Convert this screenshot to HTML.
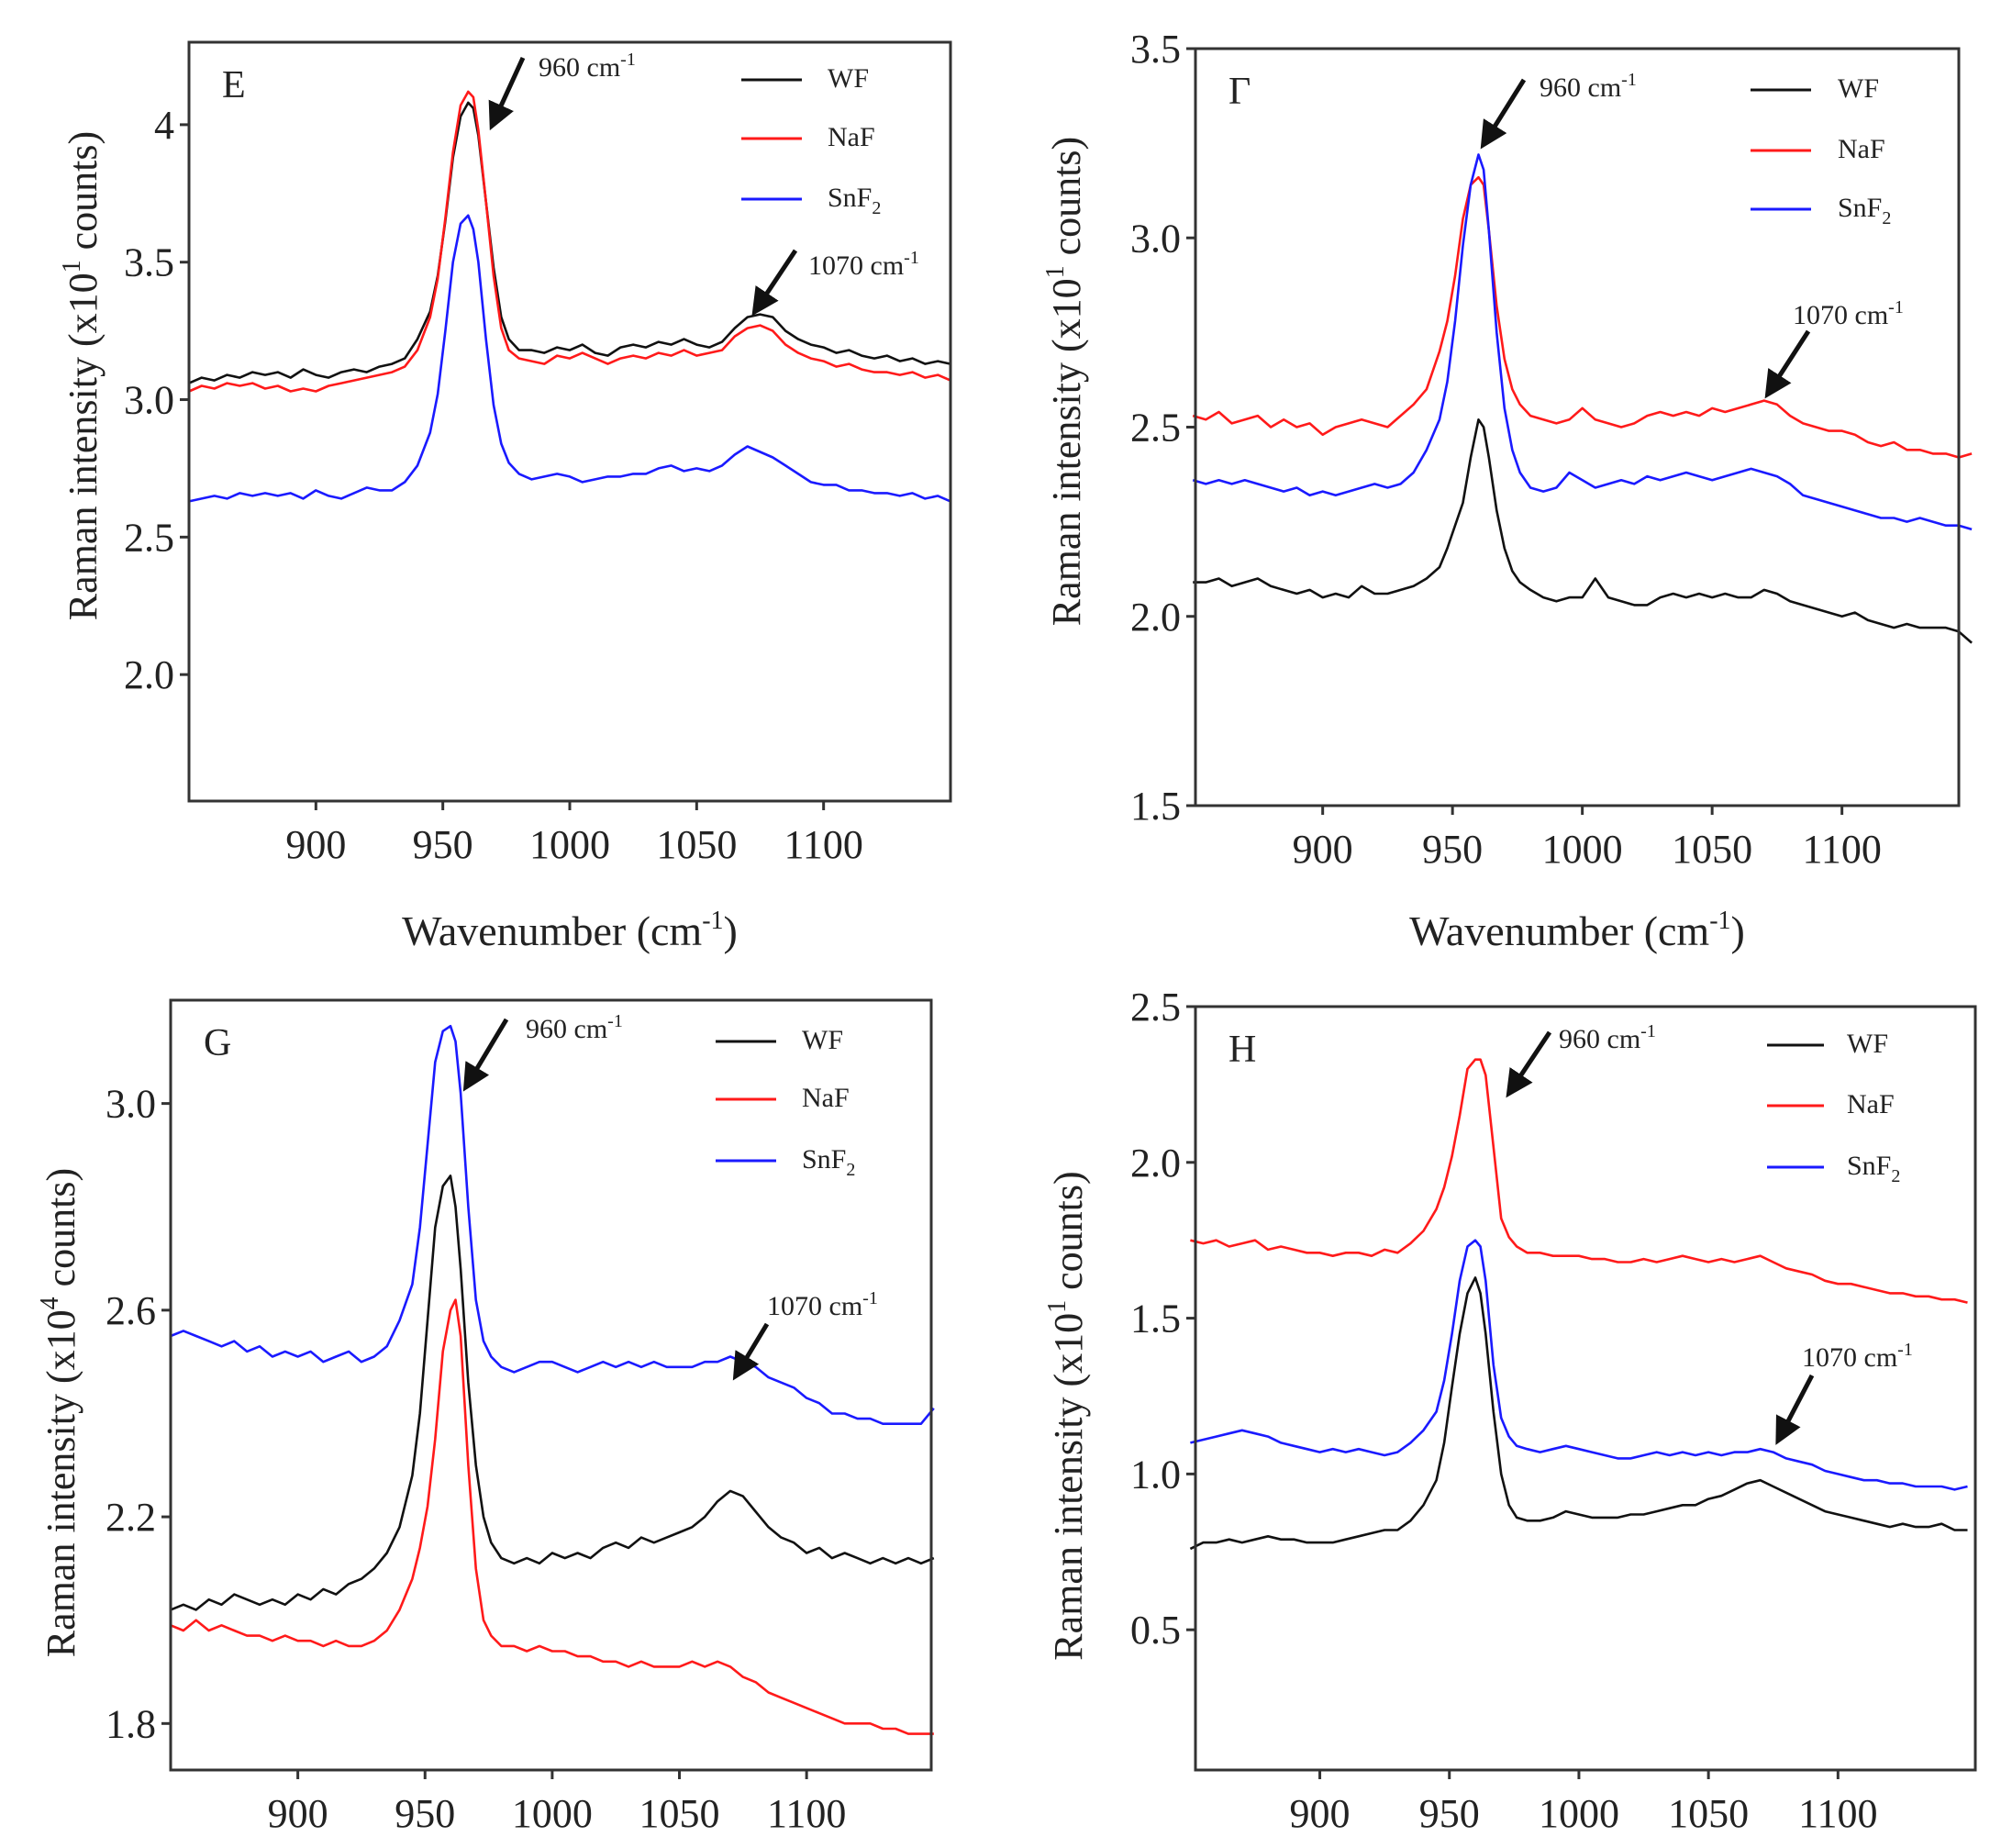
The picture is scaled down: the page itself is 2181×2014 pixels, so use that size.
<!DOCTYPE html>
<html><head><meta charset="utf-8">
<style>
html,body{margin:0;padding:0;background:#fff;}
svg{display:block;}
text{font-family:"Liberation Serif",serif;fill:#222;}
</style></head>
<body>
<svg id="fig" width="2181" height="2014" viewBox="0 0 2181 2014" xmlns="http://www.w3.org/2000/svg">
<defs><marker id="ah" markerWidth="6" markerHeight="6" refX="4" refY="3" orient="auto" markerUnits="strokeWidth"><path d="M0,0 L6,3 L0,6 z" fill="#111"/></marker></defs>
</svg>
<script>
const wavenumbers=[850,855,860,865,870,875,880,885,890,895,900,905,910,915,920,925,930,935,940,945,948,951,954,957,960,962,964,967,970,973,976,980,985,990,995,1000,1005,1010,1015,1020,1025,1030,1035,1040,1045,1050,1055,1060,1065,1070,1075,1080,1085,1090,1095,1100,1105,1110,1115,1120,1125,1130,1135,1140,1145,1150];
const seriesNames=["WF","NaF","SnF2"];
const xTicks=[900,950,1000,1050,1100];

const E_WF=[3.06,3.08,3.07,3.09,3.08,3.10,3.09,3.10,3.08,3.11,3.09,3.08,3.10,3.11,3.10,3.12,3.13,3.15,3.22,3.32,3.45,3.65,3.88,4.03,4.08,4.06,3.96,3.72,3.48,3.30,3.22,3.18,3.18,3.17,3.19,3.18,3.20,3.17,3.16,3.19,3.20,3.19,3.21,3.20,3.22,3.20,3.19,3.21,3.26,3.30,3.31,3.30,3.25,3.22,3.20,3.19,3.17,3.18,3.16,3.15,3.16,3.14,3.15,3.13,3.14,3.13];
const E_NaF=[3.03,3.05,3.04,3.06,3.05,3.06,3.04,3.05,3.03,3.04,3.03,3.05,3.06,3.07,3.08,3.09,3.10,3.12,3.18,3.30,3.44,3.66,3.90,4.07,4.12,4.10,3.98,3.72,3.45,3.26,3.18,3.15,3.14,3.13,3.16,3.15,3.17,3.15,3.13,3.15,3.16,3.15,3.17,3.16,3.18,3.16,3.17,3.18,3.23,3.26,3.27,3.25,3.20,3.17,3.15,3.14,3.12,3.13,3.11,3.10,3.10,3.09,3.10,3.08,3.09,3.07];
const E_SnF2=[2.63,2.64,2.65,2.64,2.66,2.65,2.66,2.65,2.66,2.64,2.67,2.65,2.64,2.66,2.68,2.67,2.67,2.70,2.76,2.88,3.02,3.25,3.50,3.64,3.67,3.62,3.50,3.22,2.98,2.84,2.77,2.73,2.71,2.72,2.73,2.72,2.70,2.71,2.72,2.72,2.73,2.73,2.75,2.76,2.74,2.75,2.74,2.76,2.80,2.83,2.81,2.79,2.76,2.73,2.70,2.69,2.69,2.67,2.67,2.66,2.66,2.65,2.66,2.64,2.65,2.63];

const F_WF=[2.09,2.09,2.10,2.08,2.09,2.10,2.08,2.07,2.06,2.07,2.05,2.06,2.05,2.08,2.06,2.06,2.07,2.08,2.10,2.13,2.18,2.24,2.30,2.42,2.52,2.50,2.42,2.28,2.18,2.12,2.09,2.07,2.05,2.04,2.05,2.05,2.10,2.05,2.04,2.03,2.03,2.05,2.06,2.05,2.06,2.05,2.06,2.05,2.05,2.07,2.06,2.04,2.03,2.02,2.01,2.00,2.01,1.99,1.98,1.97,1.98,1.97,1.97,1.97,1.96,1.93];
const F_NaF=[2.53,2.52,2.54,2.51,2.52,2.53,2.50,2.52,2.50,2.51,2.48,2.50,2.51,2.52,2.51,2.50,2.53,2.56,2.60,2.70,2.78,2.90,3.05,3.14,3.16,3.14,3.02,2.82,2.68,2.60,2.56,2.53,2.52,2.51,2.52,2.55,2.52,2.51,2.50,2.51,2.53,2.54,2.53,2.54,2.53,2.55,2.54,2.55,2.56,2.57,2.56,2.53,2.51,2.50,2.49,2.49,2.48,2.46,2.45,2.46,2.44,2.44,2.43,2.43,2.42,2.43];
const F_SnF2=[2.36,2.35,2.36,2.35,2.36,2.35,2.34,2.33,2.34,2.32,2.33,2.32,2.33,2.34,2.35,2.34,2.35,2.38,2.44,2.52,2.62,2.78,2.98,3.14,3.22,3.18,3.02,2.75,2.55,2.44,2.38,2.34,2.33,2.34,2.38,2.36,2.34,2.35,2.36,2.35,2.37,2.36,2.37,2.38,2.37,2.36,2.37,2.38,2.39,2.38,2.37,2.35,2.32,2.31,2.30,2.29,2.28,2.27,2.26,2.26,2.25,2.26,2.25,2.24,2.24,2.23];

const G_WF=[2.02,2.03,2.02,2.04,2.03,2.05,2.04,2.03,2.04,2.03,2.05,2.04,2.06,2.05,2.07,2.08,2.10,2.13,2.18,2.28,2.40,2.58,2.76,2.84,2.86,2.80,2.68,2.46,2.30,2.20,2.15,2.12,2.11,2.12,2.11,2.13,2.12,2.13,2.12,2.14,2.15,2.14,2.16,2.15,2.16,2.17,2.18,2.20,2.23,2.25,2.24,2.21,2.18,2.16,2.15,2.13,2.14,2.12,2.13,2.12,2.11,2.12,2.11,2.12,2.11,2.12];
const G_NaF=[1.99,1.98,2.00,1.98,1.99,1.98,1.97,1.97,1.96,1.97,1.96,1.96,1.95,1.96,1.95,1.95,1.96,1.98,2.02,2.08,2.14,2.22,2.35,2.52,2.60,2.62,2.55,2.30,2.10,2.00,1.97,1.95,1.95,1.94,1.95,1.94,1.94,1.93,1.93,1.92,1.92,1.91,1.92,1.91,1.91,1.91,1.92,1.91,1.92,1.91,1.89,1.88,1.86,1.85,1.84,1.83,1.82,1.81,1.80,1.80,1.80,1.79,1.79,1.78,1.78,1.78];
const G_SnF2=[2.55,2.56,2.55,2.54,2.53,2.54,2.52,2.53,2.51,2.52,2.51,2.52,2.50,2.51,2.52,2.50,2.51,2.53,2.58,2.65,2.76,2.92,3.08,3.14,3.15,3.12,3.02,2.80,2.62,2.54,2.51,2.49,2.48,2.49,2.50,2.50,2.49,2.48,2.49,2.50,2.49,2.50,2.49,2.50,2.49,2.49,2.49,2.50,2.50,2.51,2.50,2.49,2.47,2.46,2.45,2.43,2.42,2.40,2.40,2.39,2.39,2.38,2.38,2.38,2.38,2.41];

const H_WF=[0.76,0.78,0.78,0.79,0.78,0.79,0.80,0.79,0.79,0.78,0.78,0.78,0.79,0.80,0.81,0.82,0.82,0.85,0.90,0.98,1.10,1.28,1.45,1.58,1.63,1.58,1.45,1.20,1.00,0.90,0.86,0.85,0.85,0.86,0.88,0.87,0.86,0.86,0.86,0.87,0.87,0.88,0.89,0.90,0.90,0.92,0.93,0.95,0.97,0.98,0.96,0.94,0.92,0.90,0.88,0.87,0.86,0.85,0.84,0.83,0.84,0.83,0.83,0.84,0.82,0.82];
const H_NaF=[1.75,1.74,1.75,1.73,1.74,1.75,1.72,1.73,1.72,1.71,1.71,1.70,1.71,1.71,1.70,1.72,1.71,1.74,1.78,1.85,1.92,2.02,2.15,2.30,2.33,2.33,2.28,2.05,1.82,1.76,1.73,1.71,1.71,1.70,1.70,1.70,1.69,1.69,1.68,1.68,1.69,1.68,1.69,1.70,1.69,1.68,1.69,1.68,1.69,1.70,1.68,1.66,1.65,1.64,1.62,1.61,1.61,1.60,1.59,1.58,1.58,1.57,1.57,1.56,1.56,1.55];
const H_SnF2=[1.10,1.11,1.12,1.13,1.14,1.13,1.12,1.10,1.09,1.08,1.07,1.08,1.07,1.08,1.07,1.06,1.07,1.10,1.14,1.20,1.30,1.45,1.62,1.73,1.75,1.73,1.62,1.35,1.18,1.12,1.09,1.08,1.07,1.08,1.09,1.08,1.07,1.06,1.05,1.05,1.06,1.07,1.06,1.07,1.06,1.07,1.06,1.07,1.07,1.08,1.07,1.05,1.04,1.03,1.01,1.00,0.99,0.98,0.98,0.97,0.97,0.96,0.96,0.96,0.95,0.96];

const E_yTicks=["2.0","2.5","3.0","3.5","4"];
const F_yTicks=["1.5","2.0","2.5","3.0","3.5"];
const G_yTicks=["1.8","2.2","2.6","3.0"];
const H_yTicks=["0.5","1.0","1.5","2.0","2.5"];

const NS="http://www.w3.org/2000/svg";
const svg=document.getElementById('fig');
const colors=["#111111","#ff1a1a","#1a1aff"];
function mk(tag,attrs,parent){const e=document.createElementNS(NS,tag);for(const k in attrs)e.setAttribute(k,attrs[k]);(parent||svg).appendChild(e);return e;}

const panels=[
 {id:"e",letter:"E",box:[206,46,1036,873],xr:[850,1150],yr:[1.54,4.30],yt:E_yTicks,data:[E_WF,E_NaF,E_SnF2],ylab:"1",ylx:91,xtitle:true,
  leg:[808,874,[87,151,217],902],a1:[587,73,570,63,538,133],a2:[881,289,867,273,825,336]},
 {id:"f",letter:"Γ",box:[1303,53,2135,878],xr:[851,1145],yr:[1.5,3.5],yt:F_yTicks,data:[F_WF,F_NaF,F_SnF2],ylab:"1",ylx:1163,xtitle:true,
  leg:[1908,1974,[98,164,228],2003],a1:[1678,95,1661,87,1619,154],a2:[1954,343,1971,361,1929,426]},
 {id:"g",letter:"G",box:[186,1090,1015,1929],xr:[850,1149],yr:[1.71,3.2],yt:G_yTicks,data:[G_WF,G_NaF,G_SnF2],ylab:"4",ylx:67,xtitle:false,
  leg:[780,846,[1135,1198,1265],874],a1:[573,1121,552,1111,510,1181],a2:[836,1423,836,1443,804,1496]},
 {id:"h",letter:"H",box:[1303,1097,2153,1929],xr:[852,1153],yr:[0.05,2.5],yt:H_yTicks,data:[H_WF,H_NaF,H_SnF2],ylab:"1",ylx:1165,xtitle:false,
  leg:[1926,1988,[1139,1205,1272],2013],a1:[1699,1132,1689,1125,1647,1188],a2:[1964,1479,1975,1499,1940,1566]}
];

panels.forEach(p=>{
  const [L,T,R,B]=p.box;
  const g=mk('g',{});
  
  
  const xs=v=>L+(v-p.xr[0])/(p.xr[1]-p.xr[0])*(R-L);
  const ys=v=>B-(v-p.yr[0])/(p.yr[1]-p.yr[0])*(B-T);
  // series
  p.data.forEach((arr,si)=>{
    const d=arr.map((v,i)=>(i?'L':'M')+xs(wavenumbers[i]).toFixed(1)+','+ys(v).toFixed(1)).join(' ');
    const path=mk('path',{d:d,fill:'none',stroke:colors[si],'stroke-width':2.6,'stroke-linejoin':'round'},g);
    
    
  });
  // box
  const box=mk('rect',{x:L,y:T,width:R-L,height:B-T,fill:'none',stroke:'#333','stroke-width':3},g);
  
  
  // x ticks
  xTicks.forEach(t=>{
    const x=xs(t);
    mk('line',{x1:x,y1:B,x2:x,y2:B+10,stroke:'#333','stroke-width':3},g);
    const tx=mk('text',{x:x,y:B+62,'font-size':44,'text-anchor':'middle'},g);
    tx.textContent=t;
    
    
  });
  // y ticks
  p.yt.forEach(t=>{
    const y=ys(parseFloat(t));
    mk('line',{x1:L-10,y1:y,x2:L,y2:y,stroke:'#333','stroke-width':3},g);
    const ty=mk('text',{x:L-16,y:y+15,'font-size':44,'text-anchor':'end'},g);
    ty.textContent=t;
    
    
  });
  // y title
  const cy=(T+B)/2-(p.id==='e'||p.id==='f'?50:0)+(p.id==='g'||p.id==='h'?30:0);
  const yt=mk('text',{x:p.ylx,y:cy,'font-size':44,'text-anchor':'middle',transform:`rotate(-90 ${p.ylx} ${cy})`,dy:14},g);
  yt.innerHTML='Raman intensity (x10<tspan dy="-18" font-size="28">'+p.ylab+'</tspan><tspan dy="18"> counts)</tspan>';
  
  
  if(p.xtitle){
    const xt=mk('text',{x:(L+R)/2,y:1030,'font-size':46,'text-anchor':'middle'},g);
    xt.innerHTML='Wavenumber (cm<tspan dy="-18" font-size="28">-1</tspan><tspan dy="18">)</tspan>';
    
    
  }
  // letter
  const lt=mk('text',{x:L+36,y:T+60,'font-size':42},g);
  lt.textContent=p.letter;
  
  
  // legend
  const [lx1,lx2,lys,ltx]=p.leg;
  const labels=['WF','NaF','SnF<tspan dy="8" font-size="20">2</tspan>'];
  lys.forEach((ly,i)=>{
    const ln=mk('line',{x1:lx1,y1:ly,x2:lx2,y2:ly,stroke:colors[i],'stroke-width':3},g);
    
    
    const lb=mk('text',{x:ltx,y:ly+8,'font-size':30},g);
    lb.innerHTML=labels[i];
    
    
  });
  // annotations
  [[p.a1,'960'],[p.a2,'1070']].forEach(([a,lbl])=>{
    const at=mk('text',{x:a[0],y:a[1]+10,'font-size':30},g);
    at.innerHTML=lbl+' cm<tspan dy="-12" font-size="20">-1</tspan>';
    
    
    const ar=mk('line',{x1:a[2],y1:a[3],x2:a[4],y2:a[5],stroke:'#111','stroke-width':5,'marker-end':'url(#ah)'},g);
    
    
  });
});
</script>
</body></html>
